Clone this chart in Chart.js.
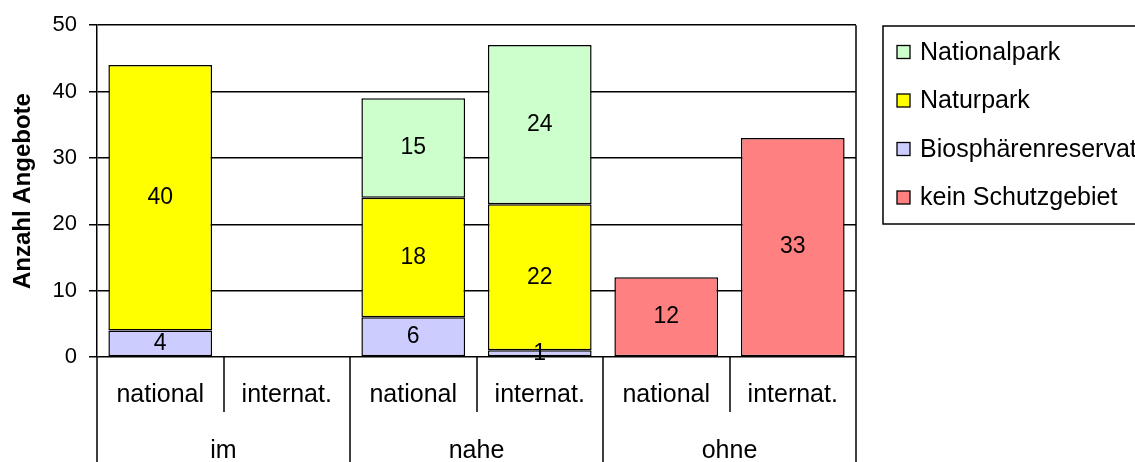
<!DOCTYPE html>
<html>
<head>
<meta charset="utf-8">
<script src="https://cdn.jsdelivr.net/npm/chart.js@4"></script>
<style>
  body { margin: 0; background: #fff; }
  canvas { display: block; }
</style>
</head>
<body>
<canvas id="chart" width="1135" height="462"></canvas>
<script>
// Kategorien: Lage zum Schutzgebiet (Gruppe) x Reichweite des Angebots
var categories = ['national', 'internat.', 'national', 'internat.', 'national', 'internat.'];
var groups = ['im', 'nahe', 'ohne'];
var groupSize = 2;

// Serien in Stapelreihenfolge (unten nach oben)
var seriesNames = ['kein Schutzgebiet', 'Biosphärenreservat', 'Naturpark', 'Nationalpark'];
var keinSchutzgebiet = [null, null, null, null, 12, 33];
var biosphaere = [4, null, 6, 1, null, null];
var naturpark = [40, null, 18, 22, null, null];
var nationalpark = [null, null, 15, 24, null, null];
var seriesColors = ['#ff8080', '#ccccff', '#ffff00', '#ccffcc'];

var yMin = 0, yMax = 50, yStep = 10;

var FONT = 'Arial, "Liberation Sans", sans-serif';

var seriesData = [keinSchutzgebiet, biosphaere, naturpark, nationalpark];
var datasets = seriesNames.map(function (name, i) {
  return {
    label: name,
    data: seriesData[i],
    backgroundColor: seriesColors[i],
    borderColor: '#000',
    borderWidth: 1.5,
    borderSkipped: false,
    barPercentage: 0.82,
    categoryPercentage: 1
  };
});

// Werte mittig in die Segmente schreiben
var barLabels = {
  id: 'barLabels',
  afterDatasetsDraw: function (chart) {
    var ctx = chart.ctx;
    ctx.save();
    ctx.fillStyle = '#000';
    ctx.font = '23px ' + FONT;
    ctx.textAlign = 'center';
    ctx.textBaseline = 'middle';
    chart.data.datasets.forEach(function (ds, di) {
      chart.getDatasetMeta(di).data.forEach(function (bar, i) {
        var v = ds.data[i];
        if (v == null) return;
        ctx.fillText(String(v), bar.x, (bar.y + bar.base) / 2);
      });
    });
    ctx.restore();
  }
};

// zweistufige Kategorienachse mit Trennlinien
var categoryAxis = {
  id: 'categoryAxis',
  afterDraw: function (chart) {
    var ctx = chart.ctx, xs = chart.scales.x, area = chart.chartArea;
    var half = (xs.getPixelForValue(1) - xs.getPixelForValue(0)) / 2;
    ctx.save();
    ctx.strokeStyle = '#000';
    ctx.lineWidth = 1.5;
    ctx.fillStyle = '#000';
    ctx.font = '25px ' + FONT;
    ctx.textAlign = 'center';
    ctx.textBaseline = 'middle';
    categories.forEach(function (c, i) {
      var cx = xs.getPixelForValue(i);
      ctx.fillText(c, cx, area.bottom + 38);
      var bx = Math.round(cx - half);
      var bottom = (i % groupSize === 0) ? chart.height : area.bottom + 55;
      ctx.beginPath();
      ctx.moveTo(bx, area.bottom);
      ctx.lineTo(bx, bottom);
      ctx.stroke();
    });
    groups.forEach(function (g, gi) {
      var a = xs.getPixelForValue(gi * groupSize);
      var b = xs.getPixelForValue(gi * groupSize + groupSize - 1);
      ctx.fillText(g, (a + b) / 2, area.bottom + 94);
    });
    // rechter Rahmen der Zeichenfläche bis unten
    ctx.beginPath();
    ctx.moveTo(area.right, area.top);
    ctx.lineTo(area.right, chart.height);
    ctx.stroke();
    ctx.restore();
  }
};

// Legende mit Rahmen, umgekehrte Reihenfolge
var boxLegend = {
  id: 'boxLegend',
  afterDraw: function (chart) {
    var ctx = chart.ctx;
    var x0 = 883, y0 = 26;
    ctx.save();
    ctx.strokeStyle = '#000';
    ctx.lineWidth = 1.5;
    ctx.strokeRect(x0, y0, 300, 198);
    ctx.font = '25px ' + FONT;
    ctx.textAlign = 'left';
    ctx.textBaseline = 'middle';
    var items = chart.data.datasets.slice().reverse();
    items.forEach(function (ds, i) {
      var cy = 52 + i * 48.5;
      ctx.fillStyle = ds.backgroundColor;
      ctx.fillRect(897, cy - 6.5, 13, 13);
      ctx.lineWidth = 1.3;
      ctx.strokeRect(897, cy - 6.5, 13, 13);
      ctx.fillStyle = '#000';
      ctx.fillText(ds.label, 920, cy + 1);
    });
    ctx.restore();
  }
};

new Chart(document.getElementById('chart'), {
  type: 'bar',
  data: { labels: categories, datasets: datasets },
  options: {
    responsive: false,
    animation: false,
    layout: { padding: { left: 0, top: 25, right: 279, bottom: 105 } },
    plugins: {
      legend: { display: false },
      tooltip: { enabled: false }
    },
    scales: {
      x: {
        stacked: true,
        display: false
      },
      y: {
        stacked: true,
        min: yMin,
        max: yMax,
        afterFit: function (scale) { scale.width = 97; },
        ticks: {
          stepSize: yStep,
          color: '#000',
          padding: 12,
          font: { family: FONT, size: 22 }
        },
        grid: {
          color: '#000',
          lineWidth: 1.5,
          tickLength: 8
        },
        border: { color: '#000', width: 1.5 },
        title: {
          display: true,
          text: 'Anzahl Angebote',
          color: '#000',
          padding: { top: 9, bottom: 0 },
          font: { family: FONT, size: 24, weight: 'bold' }
        }
      }
    }
  },
  plugins: [barLabels, categoryAxis, boxLegend]
});
</script>
</body>
</html>
